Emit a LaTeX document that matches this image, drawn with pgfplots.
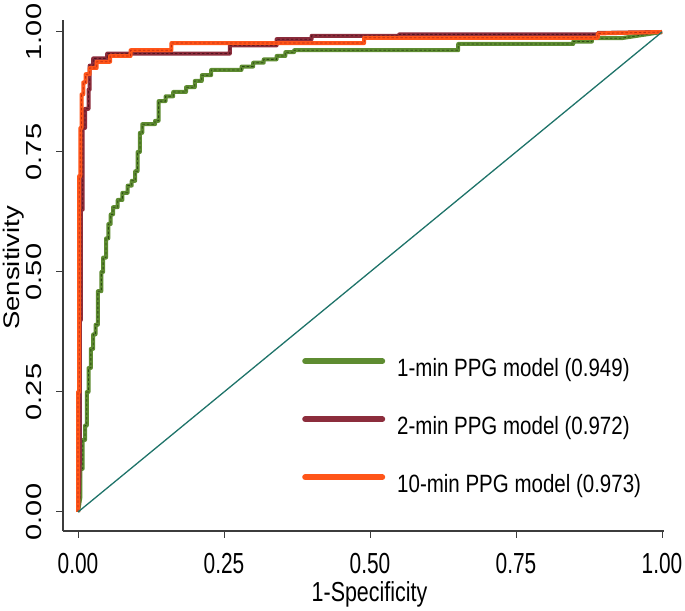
\documentclass[border=0pt]{standalone}
\usepackage{pgfplots}
\usepackage{pgfplotstable}
\pgfplotsset{compat=1.18}
\usepackage{fontspec}
\setmainfont{Liberation Sans}
\newfontfamily\tickfont{Liberation Sans}[FakeStretch=0.72]
\newfontfamily\labfont{Liberation Sans}[FakeStretch=0.78]
\newfontfamily\legfont{Liberation Sans}[FakeStretch=0.82]
\definecolor{cgreen}{RGB}{94,140,49}
\definecolor{cgreendk}{RGB}{45,75,20}
\definecolor{cred}{RGB}{140,45,60}
\definecolor{creddk}{RGB}{80,20,30}
\definecolor{corange}{RGB}{255,85,25}
\definecolor{corangedk}{RGB}{190,45,20}
\definecolor{cteal}{RGB}{30,115,105}
\definecolor{caxis}{RGB}{60,60,60}

\pgfplotstableread{
x y
0 0
0.004 0.03
0.004 0.09
0.008 0.09
0.008 0.15
0.012 0.15
0.012 0.18
0.015 0.18
0.015 0.25
0.018 0.25
0.018 0.30
0.022 0.30
0.022 0.34
0.026 0.34
0.026 0.37
0.030 0.37
0.030 0.39
0.034 0.39
0.034 0.46
0.040 0.46
0.040 0.50
0.043 0.50
0.043 0.53
0.048 0.53
0.048 0.57
0.052 0.57
0.052 0.60
0.056 0.60
0.056 0.62
0.060 0.62
0.060 0.635
0.068 0.635
0.068 0.650
0.076 0.650
0.076 0.665
0.085 0.665
0.085 0.68
0.092 0.68
0.092 0.69
0.098 0.69
0.098 0.71
0.102 0.71
0.102 0.75
0.106 0.75
0.106 0.79
0.110 0.79
0.110 0.808
0.132 0.808
0.132 0.815
0.138 0.815
0.138 0.856
0.150 0.856
0.150 0.866
0.163 0.866
0.163 0.875
0.185 0.875
0.185 0.885
0.200 0.885
0.200 0.898
0.212 0.898
0.212 0.910
0.228 0.910
0.228 0.921
0.280 0.921
0.280 0.928
0.300 0.928
0.300 0.936
0.318 0.936
0.318 0.943
0.340 0.943
0.340 0.950
0.355 0.950
0.355 0.958
0.370 0.958
0.370 0.962
0.651 0.962
0.651 0.975
0.848 0.975
0.848 0.980
0.880 0.980
0.880 0.987
0.930 0.987
1 1
}\greendata

\pgfplotstableread{
x y
0 0
0.003 0.10
0.003 0.40
0.005 0.40
0.005 0.63
0.008 0.63
0.008 0.80
0.012 0.80
0.012 0.84
0.018 0.84
0.018 0.88
0.020 0.88
0.020 0.93
0.026 0.93
0.026 0.945
0.050 0.945
0.050 0.955
0.260 0.955
0.260 0.972
0.340 0.972
0.340 0.985
0.400 0.985
0.400 0.992
0.550 0.992
0.550 0.995
0.890 0.995
0.890 0.998
1 1
}\reddata

\pgfplotstableread{
x y
0 0
0 0.25
0.002 0.25
0.002 0.70
0.004 0.70
0.004 0.80
0.006 0.80
0.006 0.87
0.009 0.87
0.009 0.895
0.013 0.895
0.013 0.912
0.020 0.912
0.020 0.925
0.032 0.925
0.032 0.938
0.055 0.938
0.055 0.950
0.090 0.950
0.090 0.962
0.160 0.962
0.160 0.977
0.490 0.977
0.490 0.988
0.890 0.988
0.890 0.997
1 1
}\orangedata

\begin{document}
\begin{tikzpicture}
\useasboundingbox (0,0) rectangle (685bp,611bp);
\begin{axis}[
  at={(63bp,80bp)}, anchor=south west,
  scale only axis, width=601bp, height=511bp,
  xmin=-0.0257, xmax=1.0034, ymin=-0.0396, ymax=1.025,
  axis lines=left,
  axis line style={-, draw=caxis, line width=1.3bp},
  clip=false,
  xtick={0,0.25,0.5,0.75,1},
  xticklabels={0.00,0.25,0.50,0.75,1.00},
  ytick={0,0.25,0.5,0.75,1},
  yticklabels={0.00,0.25,0.50,0.75,1.00},
  minor tick num=0,
  tick align=outside,
  major tick length=7bp,
  tick style={draw=caxis, line width=1bp},
  xticklabel style={font=\tickfont\fontsize{29bp}{29bp}\selectfont, anchor=north, inner sep=0pt, yshift=-15bp},
  yticklabel style={font=\fontsize{29bp}{29bp}\selectfont, xshift=-14bp, xscale=0.75, rotate=90, anchor=south, inner sep=0pt},
  xlabel={1-Specificity},
  ylabel={Sensitivity},
  every axis x label/.style={font=\labfont\fontsize{27.5bp}{27.5bp}\selectfont, at={(axis description cs:0.51,-0.1233)}, anchor=center},
  every axis y label/.style={font=\fontsize{27.5bp}{27.5bp}\selectfont, at={(axis description cs:-0.0815,0.515)}, xscale=0.82, rotate=90, anchor=center},
  legend cell align=left,
  legend image code/.code={\draw[#1, line width=6bp, line cap=round] (3bp,9bp) -- (80bp,9bp);},
  legend style={at={(axis description cs:0.3977,0.3386)}, anchor=north west,
    draw=none, fill=none, inner sep=0pt, row sep=34bp, column sep=12bp,
    font=\legfont\fontsize{25bp}{25bp}\selectfont,
    nodes={inner sep=0pt, text height=18bp, text depth=6bp}},
]
\addplot[cgreen, line width=4bp, line join=round] table[x=x,y=y] {\greendata};
\addlegendentry{1-min PPG model (0.949)}
\addplot[cgreendk, line width=0.8bp, dash pattern=on 2.5bp off 2bp, forget plot] table[x=x,y=y] {\greendata};
\addplot[cred, line width=4bp, line join=round] table[x=x,y=y] {\reddata};
\addlegendentry{2-min PPG model (0.972)}
\addplot[creddk, line width=0.8bp, dash pattern=on 2.5bp off 2bp, forget plot] table[x=x,y=y] {\reddata};
\addplot[corange, line width=4bp, line join=round] table[x=x,y=y] {\orangedata};
\addlegendentry{10-min PPG model (0.973)}
\addplot[corangedk, line width=0.8bp, dash pattern=on 2.5bp off 2bp, forget plot] table[x=x,y=y] {\orangedata};
\addplot[cteal, line width=1.3bp, forget plot] coordinates {(0,0) (1,1)};
\end{axis}
\end{tikzpicture}
\end{document}
